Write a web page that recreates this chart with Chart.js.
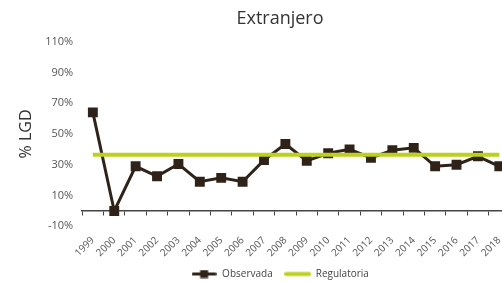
<!DOCTYPE html>
<html>
<head>
<meta charset="utf-8">
<script src="https://cdn.jsdelivr.net/npm/chart.js@4/dist/chart.umd.min.js"></script>
<style>
  html, body { margin: 0; padding: 0; background: #fff; overflow: hidden; }
  #wrap { width: 560px; height: 282px; }
</style>
</head>
<body>
<div id="wrap"><canvas id="c" width="560" height="282"></canvas></div>
<script>
const years = ['1999', '2000', '2001', '2002', '2003', '2004', '2005', '2006', '2007', '2008',
               '2009', '2010', '2011', '2012', '2013', '2014', '2015', '2016', '2017', '2018'];
const observada = [64, 0, 29, 22.5, 30.5, 19, 21.5, 19, 33, 43.5,
                   32.5, 37.5, 40, 34.5, 39.5, 41, 29, 30, 35.5, 29];
const regulatoria = [36.5, 36.5, 36.5, 36.5, 36.5, 36.5, 36.5, 36.5, 36.5, 36.5,
                     36.5, 36.5, 36.5, 36.5, 36.5, 36.5, 36.5, 36.5, 36.5, 36.5];
const yMin = -10, yMax = 110, yStep = 20;

const DARK = '#2f2219';
const GREEN = '#bdd01c';
const FONT = "'Open Sans', sans-serif";

// small canvases used as legend symbols (line + optional square marker)
function legendSymbol(w, h, color, lw, marker) {
  const c = document.createElement('canvas');
  c.width = w; c.height = h;
  const g = c.getContext('2d');
  g.strokeStyle = color; g.lineWidth = lw; g.lineCap = 'round';
  g.beginPath(); g.moveTo(lw / 2, h / 2); g.lineTo(w - lw / 2, h / 2); g.stroke();
  if (marker) {
    g.fillStyle = color;
    g.fillRect(w / 2 - marker / 2, h / 2 - marker / 2, marker, marker);
  }
  return c;
}
const symObs = legendSymbol(25, 9, DARK, 3, 8);
const symReg = legendSymbol(27, 9, GREEN, 4, 0);

new Chart(document.getElementById('c'), {
  type: 'line',
  data: {
    labels: years,
    datasets: [
      { label: 'Regulatoria', data: regulatoria, borderColor: GREEN, backgroundColor: GREEN,
        borderWidth: 4, pointRadius: 0, tension: 0, xAxisID: 'x', yAxisID: 'y' },
      { label: 'Observada', data: observada, borderColor: DARK, backgroundColor: DARK,
        borderWidth: 3, pointStyle: 'rect', pointRadius: 7, pointBorderWidth: 0,
        pointBackgroundColor: DARK, tension: 0, xAxisID: 'x', yAxisID: 'y' }
    ]
  },
  options: {
    responsive: false, animation: false, devicePixelRatio: 1,
    layout: { padding: { left: 0, right: 0, top: 0, bottom: -7 } },
    plugins: {
      tooltip: { enabled: false },
      title: {
        display: true, text: 'Extranjero', color: '#333',
        font: { family: FONT, size: 18, weight: 'normal' },
        padding: { top: 8, bottom: 12 }
      },
      legend: {
        position: 'bottom',
        labels: {
          usePointStyle: true, pointStyleWidth: 26, boxHeight: 9,
          color: '#444', font: { family: FONT, size: 10 }, padding: 12,
          generateLabels: () => [
            { text: 'Observada', pointStyle: symObs, datasetIndex: 1, hidden: false,
              fontColor: '#444', lineWidth: 0, strokeStyle: 'transparent', fillStyle: 'transparent' },
            { text: 'Regulatoria', pointStyle: symReg, datasetIndex: 0, hidden: false,
              fontColor: '#444', lineWidth: 0, strokeStyle: 'transparent', fillStyle: 'transparent' }
          ]
        }
      }
    },
    scales: {
      x: {
        type: 'category', offset: true,
        grid: { display: false, drawTicks: false }, border: { display: false },
        ticks: { color: '#555', font: { family: FONT, size: 10 }, minRotation: 45, maxRotation: 45,
                 autoSkip: false, padding: 8 },
        afterFit: s => { s.height -= 10; }
      },
      // zero line with tick marks between categories
      x0: {
        type: 'category', offset: true, position: { y: 0 },
        grid: { offset: true, drawOnChartArea: false, drawTicks: true, tickLength: 4, color: '#444', lineWidth: 1 },
        border: { display: true, color: '#444', width: 1.5 },
        ticks: { display: false }
      },
      y: {
        min: yMin, max: yMax,
        grid: { display: false, drawTicks: false }, border: { display: false },
        ticks: { stepSize: yStep, color: '#555', font: { family: FONT, size: 11 }, padding: 9,
                 callback: v => v + '%' },
        title: { display: true, text: '% LGD', color: '#333', font: { family: FONT, size: 16 },
                 padding: { top: 17, bottom: 0 } }
      },
      // empty right-hand strip: the plot runs past the visible edge
      yr: {
        position: 'right', min: yMin, max: yMax,
        grid: { display: false, drawTicks: false }, border: { display: false },
        ticks: { display: false },
        afterFit: s => { s.width = 50; }
      }
    }
  }
});
</script>
</body>
</html>
